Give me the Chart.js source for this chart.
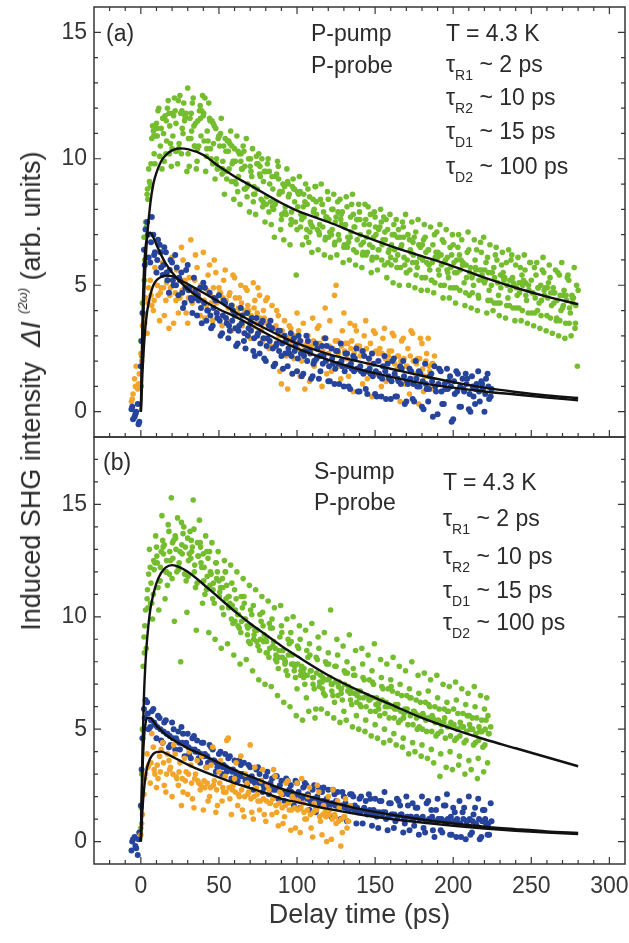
<!DOCTYPE html>
<html>
<head>
<meta charset="utf-8">
<script src="https://cdn.jsdelivr.net/npm/chart.js@4.4.1/dist/chart.umd.min.js"></script>
<style>
    html, body { margin: 0; padding: 0; background: #fff; }
    #wrap { position: relative; width: 629px; height: 943px; overflow: hidden;
            font-family: "Liberation Sans", Arial, sans-serif; color: #2b2b2b; }
    canvas { position: absolute; left: 0; }
    #chartA { top: 0; }
    #chartB { top: 430px; }
    .lbl { position: absolute; font-size: 23px; line-height: 23px; white-space: nowrap; }
    .lbl sub { font-size: 14px; vertical-align: -8px; line-height: 0; }
    #ytitle { position: absolute; left: 31px; top: 391px; font-size: 27px; line-height: 30px;
              white-space: nowrap; transform: translate(-50%, -50%) rotate(-90deg); }
    #ytitle sup { font-size: 13px; vertical-align: 13px; line-height: 0; }
</style>
</head>
<body>
<div id="wrap">
    <canvas id="chartA" width="629" height="445"></canvas>
    <canvas id="chartB" width="629" height="513"></canvas>

    <div id="ytitle">Induced SHG intensity&nbsp;&nbsp;<i>ΔI</i>&nbsp;<sup><i>(2ω)</i></sup>&nbsp;(arb. units)</div>

    <div class="lbl" style="left:106px;top:22px">(a)</div>
    <div class="lbl" style="left:311px;top:22px">P-pump</div>
    <div class="lbl" style="left:311px;top:54px">P-probe</div>
    <div class="lbl" style="left:446px;top:22px">T = 4.3 K</div>
    <div class="lbl" style="left:446px;top:53px">τ<sub>R1</sub> ~ 2 ps</div>
    <div class="lbl" style="left:446px;top:86px">τ<sub>R2</sub> ~ 10 ps</div>
    <div class="lbl" style="left:446px;top:120px">τ<sub>D1</sub> ~ 15 ps</div>
    <div class="lbl" style="left:446px;top:155px">τ<sub>D2</sub> ~ 100 ps</div>

    <div class="lbl" style="left:103px;top:451px">(b)</div>
    <div class="lbl" style="left:314px;top:460px">S-pump</div>
    <div class="lbl" style="left:314px;top:491px">P-probe</div>
    <div class="lbl" style="left:443px;top:471px">T = 4.3 K</div>
    <div class="lbl" style="left:443px;top:507px">τ<sub>R1</sub> ~ 2 ps</div>
    <div class="lbl" style="left:443px;top:545px">τ<sub>R2</sub> ~ 10 ps</div>
    <div class="lbl" style="left:443px;top:579px">τ<sub>D1</sub> ~ 15 ps</div>
    <div class="lbl" style="left:443px;top:611px">τ<sub>D2</sub> ~ 100 ps</div>
</div>

<script>
// delay stage step (ps) of each scan
const STEP = 2;

// ticks
const xMajor = [0, 50, 100, 150, 200, 250, 300];
const xMinor = [-20, -10, 0, 10, 20, 30, 40, 50, 60, 70, 80, 90, 100, 110, 120, 130, 140, 150,
    160, 170, 180, 190, 200, 210, 220, 230, 240, 250, 260, 270, 280, 290, 300];
const yMajor = [0, 5, 10, 15];
const yMinorA = [0, 1, 2, 3, 4, 5, 6, 7, 8, 9, 10, 11, 12, 13, 14, 15];
const yMinorB = [0, 1, 2, 3, 4, 5, 6, 7, 8, 9, 10, 11, 12, 13, 14, 15, 16, 17];

// fit curves (same delay grid for all six)
const fitT = [0, 1, 2, 3, 4, 6, 8, 10, 13, 16, 20, 25, 30, 40, 50, 60, 70, 80, 90, 100, 120, 140, 160, 180, 200, 220, 240, 260, 280];
const fitGreenA = [0, 2.5, 4.5, 5.9, 6.9, 8.2, 9.0, 9.45, 9.9, 10.15, 10.33, 10.41, 10.38, 10.15, 9.7, 9.3, 8.95, 8.6, 8.25, 7.95, 7.5, 7.0, 6.55, 6.15, 5.75, 5.3, 4.9, 4.55, 4.25];
const fitBlueA = [0, 3.5, 5.6, 6.5, 6.9, 7.08, 6.9, 6.6, 6.2, 5.85, 5.5, 5.15, 4.85, 4.4, 4.05, 3.77, 3.45, 3.1, 2.78, 2.5, 2.05, 1.67, 1.38, 1.13, 0.95, 0.8, 0.68, 0.56, 0.45];
const fitOrangeA = [0, 1.5, 2.6, 3.4, 3.95, 4.6, 5.0, 5.2, 5.33, 5.38, 5.36, 5.2, 5.05, 4.7, 4.35, 3.95, 3.6, 3.28, 2.98, 2.7, 2.28, 1.98, 1.7, 1.42, 1.17, 0.95, 0.78, 0.64, 0.54];
const fitGreenB = [0, 4.0, 6.5, 8.0, 9.0, 10.3, 11.0, 11.5, 11.95, 12.2, 12.3, 12.2, 12.0, 11.45, 10.85, 10.25, 9.7, 9.2, 8.7, 8.25, 7.4, 6.7, 6.1, 5.5, 5.0, 4.55, 4.15, 3.75, 3.35];
const fitBlueB = [0, 3.0, 4.6, 5.25, 5.5, 5.5, 5.35, 5.15, 4.95, 4.75, 4.55, 4.35, 4.15, 3.85, 3.5, 3.18, 2.9, 2.62, 2.35, 2.15, 1.78, 1.45, 1.2, 0.98, 0.8, 0.66, 0.55, 0.45, 0.38];
const fitOrangeB = [0, 1.4, 2.3, 2.9, 3.3, 3.7, 3.9, 3.98, 4.0, 3.92, 3.78, 3.6, 3.42, 3.12, 2.85, 2.6, 2.38, 2.15, 1.9, 1.75, 1.45, 1.2, 1.0, 0.84, 0.7, 0.58, 0.48, 0.4, 0.33];

// (a) P-pump, green scans
const greenAStarts = [0, 1, 0.5, 1.5, 0.25];
const greenA1 = [2.8, 6.9, 8.6, 9.0, 11.1, 11.4, 10.1, 11.6, 10.2, 11.8,
    10.4, 11.9, 12.3, 10.2, 11.5, 12.8, 10.8, 11.3, 9.9, 12.1,
    11.7, 10.1, 11.6, 9.8, 11.2, 10.9, 9.4, 10.8, 10.3, 9.1,
    10.4, 8.7, 9.9, 10.3, 8.5, 9.7, 8.3, 10.1, 9.4, 8.1,
    9.5, 7.9, 9.3, 8.2, 9.7, 7.6, 8.9, 9.1, 7.4, 8.8,
    7.2, 8.7, 8.1, 6.9, 8.5, 7.3, 8.9, 7.1, 8.2, 6.8,
    8.4, 7.0, 6.6, 8.3, 7.6, 6.5, 8.1, 6.9, 7.8, 6.3,
    7.9, 6.2, 7.6, 7.1, 6.0, 7.7, 6.4, 7.5, 5.8, 7.2,
    6.1, 7.4, 5.7, 6.9, 7.3, 5.5, 6.8, 5.9, 7.1, 6.6,
    5.3, 6.9, 6.4, 5.2, 7.0, 6.1, 5.0, 6.7, 5.6, 6.5,
    6.6, 4.9, 6.2, 5.8, 4.7, 6.4, 5.3, 6.0, 4.6, 6.3,
    5.1, 6.1, 4.4, 5.7, 6.0, 4.3, 5.5, 5.9, 4.2, 5.3,
    5.8, 4.1, 5.4, 5.6, 3.9, 5.2, 5.7, 4.0, 5.0, 5.5,
    3.8, 5.3, 4.9, 3.6, 5.4, 4.1, 3.5, 5.2, 4.6, 3.3,
    4.8];
const greenA2 = [4.3, 7.5, 9.6, 10.8, 9.8, 11.9, 11.2, 9.9, 12.0, 10.6,
    11.7, 10.3, 12.5, 11.0, 11.8, 9.7, 12.2, 11.4, 10.5, 11.9,
    12.4, 10.7, 10.0, 11.3, 9.6, 11.0, 10.5, 9.2, 10.6, 9.9,
    9.0, 10.2, 9.6, 8.8, 10.0, 9.3, 8.6, 9.8, 8.4, 9.5,
    9.8, 8.3, 8.0, 9.4, 8.7, 9.0, 7.8, 8.6, 8.9, 7.5,
    8.6, 7.6, 8.3, 8.8, 7.4, 8.0, 7.2, 8.4, 7.9, 7.7,
    7.1, 8.0, 7.7, 6.8, 7.9, 7.4, 6.7, 8.2, 7.3, 7.6,
    6.6, 7.4, 6.3, 7.8, 6.9, 6.1, 7.3, 6.8, 7.6, 6.4,
    7.0, 6.0, 7.2, 6.6, 5.8, 7.0, 6.3, 6.9, 5.7, 6.5,
    6.8, 5.9, 5.6, 6.6, 6.3, 5.4, 6.8, 6.0, 5.3, 6.2,
    5.5, 6.5, 6.0, 5.1, 6.3, 5.7, 5.0, 6.4, 5.6, 5.2,
    5.9, 4.8, 5.5, 6.2, 4.6, 5.8, 5.3, 4.5, 6.0, 5.0,
    4.6, 5.7, 5.2, 4.4, 5.9, 4.7, 5.4, 4.3, 5.6, 4.9,
    5.1, 4.2, 4.7, 5.5, 4.0, 4.8, 5.3, 3.9, 4.5, 5.0];
const greenA3 = [2.2, 6.0, 8.4, 9.8, 10.2, 10.9, 10.5, 11.0, 10.7, 11.3,
    10.9, 11.4, 10.6, 11.2, 11.6, 10.8, 11.1, 10.5, 11.5, 10.9,
    10.7, 11.1, 10.4, 10.6, 10.0, 10.5, 9.9, 10.3, 9.6, 9.8,
    9.9, 9.3, 9.6, 9.7, 9.0, 9.5, 8.9, 8.8, 9.3, 9.1,
    8.5, 9.0, 8.8, 8.3, 8.6, 8.7, 8.1, 8.5, 7.9, 8.3,
    8.1, 7.8, 7.7, 8.2, 7.5, 7.9, 7.8, 7.4, 7.3, 7.7,
    7.6, 7.2, 7.5, 7.0, 7.4, 7.3, 6.9, 7.1, 7.3, 6.8,
    7.0, 6.7, 6.9, 6.6, 6.5, 7.0, 6.4, 6.6, 6.8, 6.3,
    6.6, 6.4, 6.2, 6.5, 6.1, 6.0, 6.4, 6.2, 5.9, 6.1,
    6.0, 6.3, 5.8, 5.9, 6.1, 5.6, 5.8, 5.9, 5.5, 5.7,
    5.9, 5.5, 5.6, 5.8, 5.3, 5.5, 5.4, 5.6, 5.2, 5.4,
    5.2, 5.5, 5.0, 5.3, 5.1, 4.9, 5.2, 5.0, 4.8, 5.1,
    4.9, 4.7, 5.0, 4.6, 4.8, 4.7, 4.5, 4.9, 4.4, 4.6,
    4.5, 4.7, 4.3, 4.4, 4.6, 4.2, 4.4, 4.1, 4.3, 4.2];
const greenA4 = [3.9, 7.3, 9.1, 11.3, 10.9, 12.0, 9.6, 11.7, 12.3, 9.7,
    12.4, 9.8, 11.8, 12.2, 9.5, 11.6, 12.4, 9.6, 11.9, 12.5,
    9.5, 12.2, 11.5, 9.2, 10.8, 11.6, 8.6, 10.7, 11.1, 8.4,
    10.9, 8.2, 10.5, 10.8, 7.9, 10.4, 7.8, 10.2, 10.0, 7.5,
    10.0, 7.4, 6.9, 9.9, 7.2, 6.8, 9.6, 6.6, 9.2, 5.4,
    9.3, 6.6, 9.0, 6.7, 6.3, 8.9, 6.4, 9.0, 6.2, 8.7,
    6.1, 8.6, 6.2, 8.4, 5.9, 8.5, 6.0, 8.6, 5.8, 8.2,
    5.7, 8.2, 8.1, 5.5, 7.9, 5.6, 8.0, 7.7, 5.3, 7.8,
    5.1, 7.6, 5.0, 7.5, 7.8, 5.0, 7.5, 4.9, 7.6, 4.8,
    7.4, 4.8, 7.3, 4.7, 7.1, 7.4, 4.5, 7.2, 4.5, 7.0,
    4.3, 7.0, 6.8, 4.2, 7.1, 4.1, 6.8, 4.0, 6.7, 6.9,
    3.9, 6.6, 4.0, 6.5, 3.8, 6.3, 3.7, 6.4, 6.2, 3.6,
    6.1, 3.6, 6.2, 3.5, 5.9, 3.4, 5.9, 3.3, 6.1, 3.2,
    5.8, 3.1, 5.6, 3.0, 5.9, 2.9, 5.4, 3.0, 5.7, 1.8];
const greenA5 = [1.0, 5.2, 8.8, 8.9, 10.9, 11.2, 10.1, 11.6, 11.5, 10.2,
    11.8, 10.3, 10.4, 11.9, 11.7, 10.2, 11.8, 10.5, 10.4, 11.6,
    11.8, 10.4, 11.5, 11.4, 9.8, 10.9, 9.6, 9.5, 10.7, 10.5,
    9.1, 10.3, 10.2, 8.8, 8.9, 10.0, 8.6, 9.8, 9.7, 8.3,
    8.2, 9.5, 8.1, 9.3, 9.2, 7.8, 7.9, 9.0, 7.6, 8.8,
    8.7, 7.3, 8.6, 7.2, 7.1, 8.4, 8.3, 7.0, 8.2, 6.9,
    6.9, 8.0, 6.7, 7.9, 7.8, 6.6, 6.5, 7.7, 6.4, 7.6,
    7.6, 6.3, 6.2, 7.4, 6.1, 7.3, 7.2, 6.0, 7.1, 5.9,
    5.8, 7.0, 6.9, 5.7, 6.9, 5.5, 5.6, 6.7, 5.4, 6.6,
    6.6, 5.3, 6.4, 5.2, 5.1, 6.3, 6.2, 5.0, 6.1, 4.9,
    4.9, 6.0, 4.8, 5.9, 5.8, 4.6, 4.7, 5.7, 4.5, 5.6,
    5.6, 4.4, 5.5, 4.3, 4.3, 5.4, 5.3, 4.2, 5.2, 4.1,
    4.1, 5.1, 4.0, 5.1, 5.0, 3.9, 3.9, 4.9, 3.8, 4.8,
    4.9, 3.7, 4.7, 3.7, 3.6, 4.6, 4.6, 3.5, 4.5, 3.5];

// (a) blue scans
const blueAStarts = [-6, -5, -5.5];
const blueA1 = [0.1, -0.2, 0.3, 1.8, 6.4, 7.5, 5.9, 7.0, 5.5, 6.6,
    5.4, 6.3, 4.7, 5.9, 6.2, 4.6, 5.5, 4.3, 5.8, 4.5,
    5.3, 3.8, 4.9, 5.1, 3.6, 4.7, 3.4, 4.4, 4.6, 3.1,
    4.3, 2.9, 4.2, 3.8, 2.7, 4.1, 2.8, 3.9, 3.5, 2.4,
    3.7, 2.3, 3.6, 2.0, 3.4, 3.3, 1.9, 3.2, 2.2, 3.0,
    1.8, 3.1, 2.9, 1.6, 2.8, 1.5, 3.0, 2.4, 1.4, 2.7,
    1.3, 2.6, 2.9, 1.2, 2.5, 1.1, 2.4, 2.7, 1.0, 2.3,
    0.9, 2.2, 2.5, 0.8, 2.4, 0.9, 2.1, 2.3, 0.7, 2.0,
    0.6, 2.2, 1.9, 0.5, 2.1, 0.6, 1.8, 2.0, 0.4, 1.7,
    0.5, 2.0, 1.6, 0.2, 1.9, 0.4, 1.5, 1.8, -0.1, 1.6,
    0.3, 1.7, 1.4, -0.3, 1.6, 0.2, 1.3, 1.5, 0.1, 1.4,
    0.3, 1.6, 1.2, 0.0, 1.5, 0.6];
const blueA2 = [-0.3, 0.0, -0.4, 3.9, 7.2, 6.1, 7.7, 6.3, 6.8, 5.7,
    6.5, 5.2, 6.0, 5.0, 5.7, 5.2, 4.1, 5.6, 4.9, 3.9,
    4.8, 4.4, 3.5, 4.9, 4.0, 3.3, 4.5, 3.7, 3.0, 4.4,
    3.5, 3.2, 4.0, 2.6, 3.4, 3.8, 2.5, 3.3, 3.7, 2.2,
    3.1, 3.5, 2.1, 2.9, 3.6, 1.8, 2.7, 3.2, 1.7, 2.8,
    2.3, 1.5, 2.6, 3.0, 1.4, 2.4, 2.8, 1.3, 2.0, 2.5,
    1.6, 2.2, 2.6, 1.2, 1.9, 2.4, 1.1, 1.8, 2.3, 1.0,
    1.7, 2.1, 0.8, 1.6, 2.2, 0.7, 1.5, 1.9, 0.6, 1.4,
    1.8, 0.5, 1.3, 2.0, 0.6, 1.2, 1.7, 0.3, 1.1, 1.6,
    0.4, 1.0, 1.5, 0.1, 0.9, 1.4, -0.2, 0.8, 1.7, 0.3,
    0.9, 1.2, -0.4, 0.7, 1.5, 0.2, 0.8, 1.3, 0.0, 0.6,
    1.1, 0.4, 0.9, 1.3, 0.5];
const blueA3 = [0.2, -0.1, -0.5, 2.8, 5.8, 7.0, 6.7, 6.2, 6.0, 6.3,
    5.8, 5.5, 5.6, 5.2, 5.0, 5.3, 4.7, 4.9, 4.8, 4.4,
    4.5, 4.6, 4.1, 4.3, 4.0, 3.8, 4.1, 3.9, 3.6, 3.8,
    3.7, 3.4, 3.6, 3.3, 3.2, 3.5, 3.1, 3.0, 3.2, 2.9,
    3.0, 2.7, 2.9, 2.6, 2.8, 2.5, 2.6, 2.4, 2.7, 2.3,
    2.5, 2.2, 2.4, 2.1, 2.3, 2.2, 2.0, 2.3, 1.9, 2.1,
    2.2, 1.9, 2.0, 1.8, 2.1, 1.7, 1.9, 2.0, 1.6, 1.8,
    1.9, 1.6, 1.7, 1.8, 1.5, 1.6, 1.7, 1.4, 1.6, 1.5,
    1.3, 1.6, 1.4, 1.2, 1.5, 1.3, 1.1, 1.4, 1.2, 1.3,
    1.1, 1.3, 1.0, 1.2, 1.1, 0.9, 1.2, 1.0, 1.1, 0.8,
    1.1, 0.9, 1.0, 1.2, 0.8, 1.0, 0.9, 1.1, 0.7, 1.0,
    0.9, 0.8, 1.1, 0.7, 1.0, 0.9];

// (a) orange scans
const orangeAStarts = [-6, -5, -5.5];
const orangeA1 = [0.4, 1.3, 0.9, 2.3, 3.8, 3.1, 5.2, 4.0, 5.5, 3.6,
    5.9, 4.4, 3.3, 6.1, 4.7, 3.9, 6.5, 5.2, 3.5, 6.8,
    4.6, 5.7, 3.8, 6.3, 4.2, 5.8, 3.6, 5.5, 4.9, 3.4,
    5.6, 4.1, 3.2, 5.3, 3.9, 5.0, 3.1, 4.8, 2.9, 5.1,
    3.5, 4.6, 2.8, 4.4, 2.5, 4.2, 1.9, 3.8, 1.1, 3.6,
    0.9, 3.3, 2.1, 3.9, 1.4, 3.5, 2.4, 1.2, 3.7, 2.0,
    3.4, 1.0, 4.1, 2.3, 1.6, 4.6, 2.8, 1.3, 3.9, 2.1,
    3.5, 0.8, 3.2, 2.6, 1.1, 3.6, 1.9, 0.6, 3.1, 2.3,
    1.0, 3.3, 2.0, 0.5, 3.0, 1.7, 0.4, 2.9, 1.8, 0.7,
    3.1, 1.5, 0.3, 2.7, 1.4, 2.9, 0.9, 2.2];
const orangeA2 = [0.7, 1.8, 1.5, 3.4, 4.5, 4.9, 4.2, 5.7, 4.6, 4.9,
    3.8, 5.4, 4.9, 3.5, 5.6, 4.5, 6.0, 3.9, 5.3, 4.3,
    6.2, 4.5, 5.0, 3.7, 5.4, 4.3, 6.0, 3.9, 4.7, 5.2,
    3.6, 4.7, 5.4, 3.8, 4.5, 3.4, 4.9, 4.0, 3.3, 4.4,
    4.9, 3.2, 3.7, 4.5, 2.6, 3.3, 4.0, 1.6, 3.0, 2.2,
    3.4, 1.5, 2.7, 3.2, 2.0, 0.9, 3.0, 2.6, 1.8, 3.3,
    2.2, 2.9, 1.5, 3.6, 2.5, 5.0, 1.8, 3.2, 2.7, 1.4,
    2.8, 3.4, 1.7, 2.4, 3.0, 1.3, 2.7, 3.2, 1.5, 2.5,
    2.9, 1.2, 2.4, 3.1, 1.4, 2.2, 2.8, 1.1, 2.5, 3.2,
    1.3, 2.1, 2.9, 0.8, 2.3, 1.6, 1.9];
const orangeA3 = [0.5, 1.0, 1.1, 2.0, 3.5, 4.3, 4.6, 4.4, 5.0, 4.7,
    4.9, 5.1, 4.6, 5.0, 4.4, 5.3, 4.8, 5.1, 4.5, 4.9,
    5.2, 4.7, 5.0, 4.4, 4.8, 4.6, 4.9, 4.3, 4.7, 4.5,
    4.4, 4.6, 4.2, 4.5, 4.1, 4.3, 4.0, 4.2, 3.8, 4.1,
    3.9, 3.7, 4.0, 3.5, 3.6, 3.3, 3.4, 3.0, 3.2, 2.8,
    2.9, 2.7, 3.0, 2.5, 2.8, 2.6, 2.7, 2.4, 2.8, 2.5,
    2.7, 2.4, 2.9, 2.6, 2.5, 2.8, 2.3, 2.6, 2.4, 2.7,
    2.5, 2.3, 2.6, 2.2, 2.4, 2.5, 2.1, 2.3, 2.4, 2.0,
    2.3, 2.1, 2.2, 2.4, 1.9, 2.2, 2.0, 2.1, 1.8, 2.2,
    2.0, 1.9, 2.1, 1.7, 2.0, 1.8, 1.9];

// (b) S-pump, green scans
const greenBStarts = [0, 1, 0.5, 1.5, 0.25];
const greenB1 = [0.6, 9.1, 10.8, 12.2, 11.0, 13.1, 11.6, 13.4, 12.0, 13.8,
    11.7, 13.6, 12.2, 14.2, 11.9, 13.5, 12.6, 13.9, 11.5, 13.3,
    12.8, 11.2, 12.9, 10.8, 12.4, 11.6, 10.4, 12.0, 10.9, 9.9,
    11.2, 10.1, 9.3, 10.9, 9.6, 8.8, 10.5, 9.4, 8.5, 10.2,
    9.0, 8.2, 9.9, 8.6, 7.7, 9.6, 8.1, 7.4, 9.3, 7.9,
    6.8, 9.0, 7.5, 6.4, 8.8, 7.3, 5.9, 8.6, 7.1, 6.5,
    8.4, 7.0, 6.2, 8.3, 6.8, 5.8, 8.0, 6.6, 7.7, 5.6,
    6.4, 7.9, 5.4, 6.3, 7.6, 5.2, 6.1, 7.3, 5.0, 6.0,
    7.2, 4.8, 5.9, 7.0, 4.6, 5.8, 6.8, 4.4, 5.7, 6.6,
    4.3, 5.5, 6.7, 4.1, 5.4, 6.4, 3.9, 5.3, 6.2, 4.0,
    5.2, 6.3, 3.8, 5.1, 6.1, 3.6, 5.0, 6.0, 3.7, 4.9,
    5.9, 3.5, 5.1];
const greenB2 = [5.0, 10.3, 11.9, 10.6, 12.4, 11.3, 12.9, 13.2, 11.4, 12.5,
    13.4, 12.0, 12.9, 13.7, 11.6, 12.8, 13.1, 11.3, 12.7, 12.2,
    11.0, 12.6, 11.9, 10.6, 12.0, 11.3, 10.1, 11.4, 10.6, 9.7,
    10.8, 9.5, 10.4, 9.9, 8.9, 10.1, 9.4, 8.7, 9.8, 9.2,
    8.4, 9.5, 8.9, 8.0, 9.1, 8.5, 7.6, 8.8, 8.3, 7.3,
    8.6, 7.8, 7.0, 8.2, 7.6, 6.8, 8.1, 7.4, 6.6, 7.9,
    7.3, 6.5, 7.8, 7.1, 6.3, 7.5, 6.9, 6.1, 7.4, 6.7,
    6.0, 7.2, 6.5, 5.8, 7.0, 6.4, 5.6, 6.8, 6.2, 5.5,
    6.7, 6.1, 5.3, 6.5, 5.9, 5.2, 6.4, 5.8, 5.0, 6.2,
    5.6, 4.9, 6.0, 5.5, 4.7, 5.9, 5.3, 4.6, 5.8, 5.2,
    4.5, 5.7, 5.1, 4.4, 5.6, 5.0, 4.3, 5.5, 4.9, 4.2,
    5.4, 4.8];
const greenB3 = [3.0, 9.6, 10.4, 11.5, 12.1, 12.4, 12.2, 12.8, 12.5, 12.9,
    12.6, 13.0, 12.4, 12.8, 13.1, 12.5, 12.9, 12.3, 12.7, 12.4,
    12.2, 11.8, 12.0, 11.5, 11.7, 11.1, 11.3, 10.8, 10.9, 10.5,
    10.3, 10.1, 9.8, 9.9, 9.5, 9.6, 9.2, 9.4, 9.0, 8.9,
    8.9, 8.6, 8.7, 8.3, 8.5, 8.2, 8.0, 8.3, 7.9, 7.8,
    7.9, 7.6, 7.7, 7.4, 7.6, 7.3, 7.5, 7.1, 7.3, 7.2,
    7.2, 7.0, 7.1, 6.9, 6.8, 7.0, 6.7, 6.8, 6.6, 6.5,
    6.7, 6.4, 6.5, 6.3, 6.4, 6.1, 6.2, 6.3, 6.0, 6.1,
    6.0, 5.9, 6.1, 5.8, 5.7, 5.9, 5.6, 5.8, 5.5, 5.6,
    5.7, 5.4, 5.5, 5.6, 5.3, 5.4, 5.2, 5.5, 5.1, 5.3,
    5.2, 5.0, 5.3, 5.1, 4.9, 5.2, 5.0, 4.8, 5.1, 4.9,
    5.0, 4.8];
const greenB4 = [7.8, 8.6, 13.0, 9.9, 13.6, 10.3, 14.5, 10.8, 14.1, 15.3,
    9.8, 14.4, 8.0, 14.0, 10.2, 13.8, 15.2, 9.4, 14.3, 10.6,
    13.6, 9.3, 13.3, 9.0, 12.9, 8.6, 12.5, 8.8, 12.3, 8.3,
    12.0, 7.9, 11.7, 8.1, 11.4, 7.6, 11.2, 7.2, 10.9, 7.0,
    10.7, 6.9, 10.4, 6.5, 10.5, 6.2, 9.9, 6.0, 10.0, 5.6,
    9.6, 5.4, 9.4, 5.8, 9.7, 5.5, 9.1, 5.9, 9.3, 5.7,
    10.3, 5.5, 9.0, 5.3, 8.7, 5.4, 9.2, 5.1, 8.5, 5.0,
    8.6, 4.9, 8.3, 4.7, 8.8, 4.6, 8.1, 4.4, 7.9, 4.5,
    8.2, 4.3, 7.8, 4.2, 7.6, 3.9, 8.0, 4.0, 7.4, 3.8,
    7.5, 3.7, 7.2, 3.5, 7.4, 2.9, 7.0, 3.3, 6.9, 3.2,
    7.1, 3.4, 6.8, 3.0, 6.6, 3.2, 6.9, 2.8, 6.5, 3.1,
    6.4];
const greenB5 = [1.5, 8.4, 11.2, 10.6, 12.5, 12.7, 11.6, 13.1, 12.0, 11.9,
    13.3, 13.5, 12.1, 13.2, 11.9, 11.8, 13.4, 12.0, 13.3, 13.1,
    11.6, 12.9, 11.4, 11.2, 12.4, 10.9, 11.7, 12.0, 10.4, 11.5,
    9.8, 9.6, 10.9, 10.6, 9.2, 10.3, 9.0, 8.9, 10.1, 9.6,
    8.4, 9.7, 9.5, 8.1, 8.2, 9.3, 7.9, 9.0, 8.9, 7.6,
    8.7, 7.4, 7.3, 8.5, 8.3, 7.0, 8.2, 6.9, 6.8, 8.0,
    7.9, 6.7, 7.8, 6.5, 6.6, 7.6, 7.5, 6.3, 7.4, 6.2,
    6.1, 7.3, 6.0, 7.2, 7.1, 5.8, 5.9, 6.9, 5.7, 6.8,
    6.9, 5.5, 6.6, 5.4, 5.5, 6.5, 6.4, 5.2, 6.3, 5.1,
    5.0, 6.2, 6.1, 4.9, 6.0, 4.8, 4.9, 5.9, 5.8, 4.7,
    5.9, 4.6, 4.7, 5.7, 4.5, 5.6, 5.5, 4.4, 4.5, 5.4,
    4.3, 5.6];

// (b) blue scans
const blueBStarts = [-6, -5, -5.5];
const blueB1 = [-0.4, 0.2, -0.6, 1.6, 5.9, 6.2, 5.1, 5.9, 4.6, 5.5,
    4.4, 5.4, 4.2, 5.3, 4.1, 4.9, 5.1, 3.8, 4.8, 3.7,
    4.7, 4.5, 3.5, 4.4, 3.3, 4.3, 4.1, 3.1, 3.9, 3.0,
    3.9, 3.7, 2.8, 3.6, 2.7, 3.4, 3.5, 2.5, 3.3, 2.3,
    3.2, 3.0, 2.2, 2.9, 2.1, 2.8, 2.9, 1.9, 2.7, 1.8,
    2.7, 2.5, 1.6, 2.6, 1.5, 2.4, 2.5, 1.4, 2.3, 1.3,
    2.4, 2.2, 1.2, 2.3, 1.1, 2.1, 2.2, 1.0, 2.0, 0.9,
    2.1, 2.0, 0.8, 1.9, 0.8, 1.8, 2.1, 0.7, 1.9, 0.6,
    1.8, 2.2, 0.5, 1.7, 0.6, 1.9, 1.6, 0.4, 2.0, 0.5,
    1.7, 1.5, 0.3, 2.0, 0.4, 1.8, 1.4, 0.2, 1.9, 0.5,
    1.6, 2.1, 0.3, 1.5, 0.2, 1.8, 1.3, 0.1, 2.0, 0.4,
    1.5, 1.9, 0.2, 1.4, 0.3, 1.7];
const blueB2 = [0.1, -0.3, 0.4, 4.6, 6.3, 5.0, 5.8, 5.2, 5.6, 4.5,
    5.3, 4.8, 4.3, 5.0, 4.5, 4.1, 4.8, 4.4, 3.9, 4.6,
    4.0, 3.7, 4.4, 3.9, 3.5, 4.2, 3.6, 3.3, 4.0, 3.4,
    3.1, 3.8, 3.2, 2.9, 3.6, 3.0, 2.7, 3.4, 2.9, 2.6,
    3.3, 2.7, 2.4, 3.1, 2.6, 2.3, 2.9, 2.5, 2.1, 2.8,
    2.3, 2.0, 2.7, 2.2, 1.9, 2.6, 2.1, 1.8, 2.5, 2.0,
    1.7, 2.4, 1.9, 1.6, 2.3, 1.8, 1.5, 2.2, 1.7, 1.4,
    2.1, 1.6, 1.3, 2.0, 1.5, 1.2, 1.9, 1.4, 1.1, 1.8,
    1.3, 1.0, 1.7, 1.2, 0.9, 1.8, 1.2, 0.8, 1.6, 1.1,
    0.7, 1.5, 1.0, 0.6, 1.7, 0.9, 0.5, 1.4, 1.0, 0.4,
    1.6, 0.9, 0.3, 1.3, 0.8, 0.2, 1.5, 0.9, 0.3, 1.2,
    0.7, 0.1, 1.4, 0.8, 0.3];
const blueB3 = [0.0, -0.2, 0.1, 3.2, 5.5, 5.7, 5.4, 5.3, 5.1, 5.0,
    4.9, 4.8, 4.7, 4.6, 4.6, 4.4, 4.4, 4.3, 4.2, 4.1,
    4.1, 4.0, 3.9, 3.8, 3.8, 3.6, 3.6, 3.5, 3.4, 3.3,
    3.3, 3.2, 3.1, 3.1, 3.0, 2.9, 2.9, 2.8, 2.7, 2.7,
    2.6, 2.6, 2.5, 2.5, 2.4, 2.4, 2.3, 2.3, 2.2, 2.2,
    2.1, 2.2, 2.0, 2.1, 1.9, 2.0, 1.9, 1.8, 1.9, 1.8,
    1.7, 1.8, 1.7, 1.6, 1.7, 1.6, 1.5, 1.6, 1.5, 1.4,
    1.5, 1.4, 1.5, 1.3, 1.4, 1.3, 1.4, 1.2, 1.3, 1.3,
    1.2, 1.3, 1.1, 1.2, 1.2, 1.1, 1.2, 1.0, 1.1, 1.1,
    1.0, 1.1, 1.0, 1.1, 0.9, 1.0, 1.1, 0.9, 1.0, 1.0,
    0.9, 1.0, 1.1, 0.9, 1.0, 0.8, 1.0, 0.9, 1.0, 0.9,
    0.8, 1.0, 0.9, 1.0, 0.8, 0.9];

// (b) orange scans
const orangeBStarts = [0, 1, 0.5];
const orangeB1 = [0.3, 2.1, 3.9, 2.6, 4.2, 2.4, 3.8, 4.4, 2.2, 3.6,
    2.0, 3.9, 2.5, 1.6, 3.7, 2.1, 3.4, 1.5, 3.6, 2.3,
    1.4, 3.3, 2.0, 4.2, 1.3, 3.1, 1.8, 2.9, 4.6, 1.2,
    2.8, 1.6, 3.8, 1.1, 2.6, 4.3, 1.0, 2.4, 1.4, 3.2,
    0.9, 2.3, 1.2, 2.9, 0.7, 2.1, 1.1, 2.7, 0.5, 1.9,
    2.6, 0.4, 1.7, 1.0, 2.4, 0.2, 1.5, 2.2, 0.3, 1.3,
    2.0, 0.1, 1.2, 1.8, -0.2, 1.1, 0.6, 1.6];
const orangeB2 = [1.2, 3.0, 3.4, 4.8, 3.0, 2.8, 4.1, 2.5, 3.9, 3.3,
    4.3, 2.8, 3.5, 2.2, 3.1, 4.0, 1.9, 3.0, 2.6, 3.8,
    2.4, 1.8, 3.4, 2.7, 1.6, 3.6, 2.2, 4.5, 1.9, 2.5,
    3.5, 2.0, 1.4, 3.0, 2.2, 1.3, 3.3, 1.8, 2.7, 1.2,
    2.5, 1.7, 3.2, 1.3, 2.2, 0.8, 2.6, 1.4, 2.0, 0.6,
    1.8, 2.8, 1.0, 2.0, 0.6, 1.7, 2.5, 0.9, 1.6, 0.0,
    1.4, 2.3, 0.8, 1.5, 0.4, 1.9, 0.9];
const orangeB3 = [0.8, 2.8, 3.3, 3.5, 3.2, 3.4, 3.1, 3.5, 3.0, 3.2,
    3.0, 2.9, 3.1, 2.8, 2.7, 3.0, 2.6, 2.8, 2.7, 2.5,
    2.7, 2.6, 2.4, 2.5, 2.3, 2.6, 2.4, 2.2, 2.4, 2.3,
    2.2, 2.1, 2.3, 2.0, 2.1, 1.9, 2.0, 2.1, 1.8, 1.9,
    1.8, 1.7, 1.9, 1.6, 1.7, 1.5, 1.6, 1.7, 1.4, 1.5,
    1.4, 1.5, 1.3, 1.4, 1.2, 1.3, 1.4, 1.1, 1.2, 1.1,
    1.2, 1.0, 1.1, 0.9, 1.0, 1.1, 0.9];

const FONT = '"Liberation Sans", Arial, sans-serif';
const INK = '#363636';
const GREEN = '#74bd2e';
const ORANGE = '#f2a52a';
const BLUE = '#27449c';

function scanSets(scans, starts, color, order, radius) {
    return scans.map((ys, k) => ({
        type: 'scatter',
        data: ys.map((v, i) => ({ x: starts[k] + i * STEP, y: v })),
        pointBackgroundColor: color,
        backgroundColor: color,
        pointBorderWidth: 0,
        borderWidth: 0,
        pointRadius: radius,
        order: order
    }));
}

function fitSet(ys) {
    return {
        type: 'line',
        data: fitT.map((t, i) => ({ x: t, y: ys[i] })),
        borderColor: '#111',
        borderWidth: 2.4,
        pointRadius: 0,
        cubicInterpolationMode: 'monotone',
        fill: false,
        order: 0
    };
}

// frame and inward tick marks
const frameTicks = {
    id: 'frameTicks',
    afterDatasetsDraw(chart, args, opts) {
        const { ctx, chartArea: a, scales: { x, y } } = chart;
        ctx.save();
        ctx.strokeStyle = INK;
        ctx.lineWidth = 1.2;
        ctx.beginPath();
        xMinor.forEach(v => {
            const px = x.getPixelForValue(v);
            const len = xMajor.includes(v) ? 7 : 4;
            ctx.moveTo(px, a.bottom); ctx.lineTo(px, a.bottom - len);
            if (opts.top) { ctx.moveTo(px, a.top); ctx.lineTo(px, a.top + len); }
        });
        opts.yMinor.forEach(v => {
            const py = y.getPixelForValue(v);
            const len = yMajor.includes(v) ? 7 : 4;
            ctx.moveTo(a.left, py); ctx.lineTo(a.left + len, py);
            ctx.moveTo(a.right, py); ctx.lineTo(a.right - len, py);
        });
        ctx.stroke();
        ctx.lineWidth = 1.5;
        ctx.strokeRect(a.left, a.top, a.right - a.left, a.bottom - a.top);
        ctx.restore();
    }
};

function yScale(max) {
    return {
        type: 'linear', min: -1, max: max,
        grid: { display: false, drawTicks: false },
        border: { display: false },
        ticks: { font: { family: FONT, size: 23 }, color: INK, padding: 7 },
        afterBuildTicks: s => { s.ticks = yMajor.map(v => ({ value: v })); },
        afterFit: s => { s.width = 94; s.paddingTop = 0; s.paddingBottom = 0; }
    };
}

const common = {
    responsive: false,
    animation: false,
    devicePixelRatio: 1,
    events: []
};

new Chart(document.getElementById('chartA'), {
    type: 'scatter',
    data: {
        datasets: [
            fitSet(fitGreenA), fitSet(fitBlueA), fitSet(fitOrangeA),
            ...scanSets([blueA1, blueA2, blueA3], blueAStarts, BLUE, 1, 3.0),
            ...scanSets([orangeA1, orangeA2, orangeA3], orangeAStarts, ORANGE, 2, 2.8),
            ...scanSets([greenA1, greenA2, greenA3, greenA4, greenA5], greenAStarts, GREEN, 3, 2.8)
        ]
    },
    options: {
        ...common,
        layout: { padding: { left: 0, right: 3, top: 7, bottom: 8 } },
        plugins: {
            legend: { display: false },
            tooltip: { enabled: false },
            frameTicks: { top: true, yMinor: yMinorA }
        },
        scales: {
            x: {
                type: 'linear', min: -30, max: 310, display: false,
                afterFit: s => { s.height = 0; s.paddingLeft = 0; s.paddingRight = 0; }
            },
            y: yScale(16)
        }
    },
    plugins: [frameTicks]
});

new Chart(document.getElementById('chartB'), {
    type: 'scatter',
    data: {
        datasets: [
            fitSet(fitGreenB), fitSet(fitBlueB), fitSet(fitOrangeB),
            ...scanSets([orangeB1, orangeB2, orangeB3], orangeBStarts, ORANGE, 1, 2.8),
            ...scanSets([blueB1, blueB2, blueB3], blueBStarts, BLUE, 2, 3.0),
            ...scanSets([greenB1, greenB2, greenB3, greenB4, greenB5], greenBStarts, GREEN, 3, 2.8)
        ]
    },
    options: {
        ...common,
        layout: { padding: { left: 0, right: 3, top: 7, bottom: 0 } },
        plugins: {
            legend: { display: false },
            tooltip: { enabled: false },
            frameTicks: { top: false, yMinor: yMinorB }
        },
        scales: {
            x: {
                type: 'linear', min: -30, max: 310,
                grid: { display: false, drawTicks: false },
                border: { display: false },
                ticks: { font: { family: FONT, size: 23 }, color: INK, padding: 9, maxRotation: 0, autoSkip: false },
                afterBuildTicks: s => { s.ticks = xMajor.map(v => ({ value: v })); },
                title: {
                    display: true, text: 'Delay time (ps)', color: INK,
                    font: { family: FONT, size: 27 }, padding: { top: 4, bottom: 11 }
                },
                afterFit: s => { s.height = 79; s.paddingLeft = 0; s.paddingRight = 0; }
            },
            y: yScale(18)
        }
    },
    plugins: [frameTicks]
});
</script>
</body>
</html>
